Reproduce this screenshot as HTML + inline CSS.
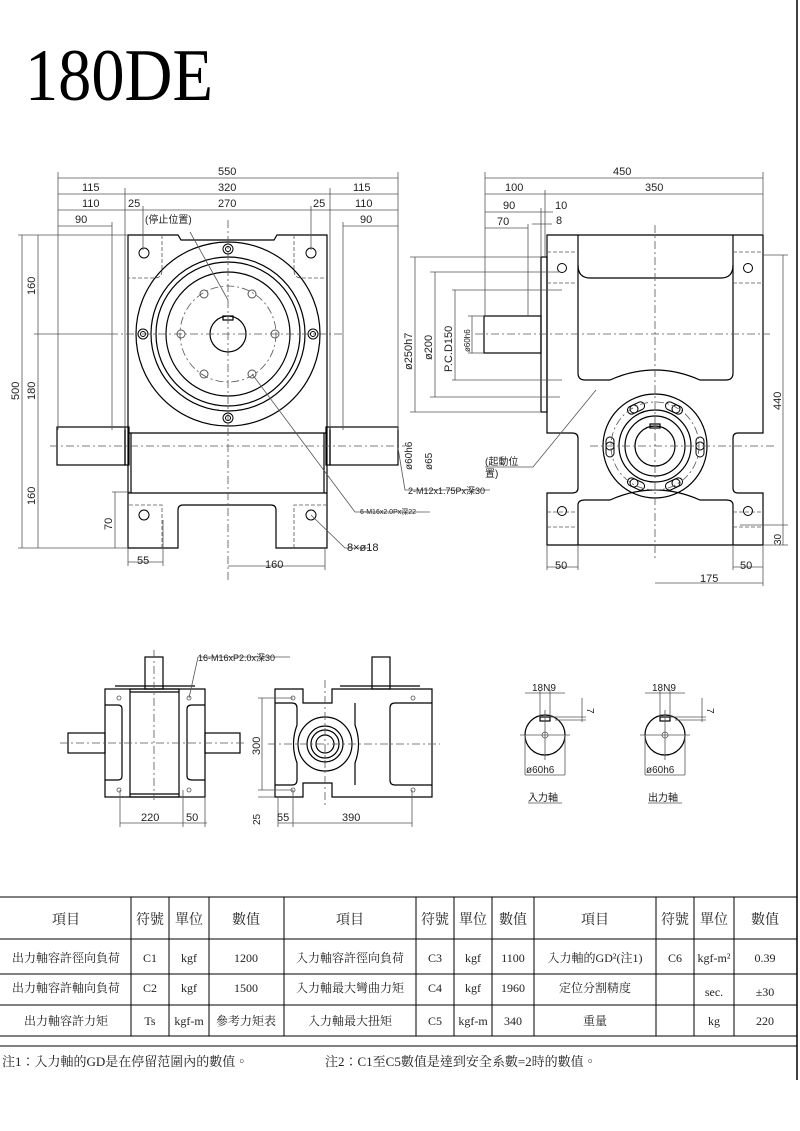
<!DOCTYPE html>
<html><head><meta charset="utf-8"><style>
html,body{margin:0;padding:0;background:#fff}
svg{display:block}
text{font-family:"Liberation Sans","Noto Sans CJK TC",sans-serif;fill:#222}
.s, .s text{font-family:"Liberation Serif","Noto Serif CJK TC",serif}
</style></head><body>
<svg width="800" height="1131" viewBox="0 0 800 1131" xmlns="http://www.w3.org/2000/svg">
<line x1="797" y1="0" x2="797" y2="1080" stroke="#000" stroke-width="1.5"/>
<text x="25" y="100" class="s" font-size="74" textLength="188" lengthAdjust="spacingAndGlyphs" style="fill:#000">180DE</text>

<!-- ===== FRONT VIEW ===== -->
<g fill="none" stroke="#000" stroke-width="1.2">
<path d="M128,235 H178 L181,240 H274 L277,235 H327 V548 H276 V510 Q276,505 271,505 H183 Q178,505 178,510 V548 H128 Z"/>
<line x1="128" y1="433" x2="327" y2="433"/><line x1="128" y1="493" x2="327" y2="493"/>
<rect x="57" y="427" width="68" height="38"/><rect x="330" y="427" width="68" height="38"/>
<rect x="125" y="427" width="4" height="38"/><rect x="326" y="427" width="4" height="38"/>
<line x1="131" y1="433" x2="131" y2="493"/><line x1="324" y1="433" x2="324" y2="493"/>
<circle cx="228" cy="334" r="92"/><circle cx="228" cy="334" r="77"/><circle cx="228" cy="334" r="72"/><circle cx="228" cy="334" r="62"/>
<circle cx="228" cy="334" r="18"/><rect x="223" y="316" width="10" height="4"/>
<g stroke-width="1"><circle cx="144" cy="253" r="5"/><circle cx="311" cy="253" r="5"/><circle cx="144" cy="515" r="5"/><circle cx="311" cy="515" r="5"/>
<circle cx="228" cy="249" r="5"/><circle cx="228" cy="418" r="5"/><circle cx="143" cy="334" r="5"/><circle cx="313" cy="334" r="5"/>
<circle cx="228" cy="249" r="2.5"/><circle cx="228" cy="418" r="2.5"/><circle cx="143" cy="334" r="2.5"/><circle cx="313" cy="334" r="2.5"/></g>
<g stroke="#555" stroke-width="1"><circle cx="204" cy="294" r="4"/><circle cx="252" cy="294" r="4"/><circle cx="181" cy="334" r="4"/><circle cx="275" cy="334" r="4"/><circle cx="204" cy="374" r="4"/><circle cx="252" cy="374" r="4"/></g>
</g>
<g fill="none" stroke="#555" stroke-width="0.8" stroke-dasharray="8,3,2,3">
<circle cx="228" cy="334" r="48"/>
<line x1="228" y1="220" x2="228" y2="580"/><line x1="110" y1="334" x2="345" y2="334"/><line x1="50" y1="446" x2="405" y2="446"/>
<path d="M162,235 V270 Q162,278 155,278 H128 M294,235 V270 Q294,278 301,278 H327 M162,548 V505 H128 M294,548 V505 H327" stroke-dasharray="4,2"/>
</g>
<g stroke="#555" stroke-width="0.8" fill="none">
<line x1="58" y1="178" x2="398" y2="178"/><line x1="58" y1="194" x2="398" y2="194"/><line x1="58" y1="210" x2="398" y2="210"/>
<line x1="58" y1="226" x2="112" y2="226"/><line x1="343" y1="226" x2="398" y2="226"/>
<line x1="58" y1="172" x2="58" y2="430"/><line x1="398" y1="172" x2="398" y2="430"/>
<line x1="125" y1="188" x2="125" y2="430"/><line x1="330" y1="188" x2="330" y2="430"/>
<line x1="112" y1="222" x2="112" y2="430"/><line x1="343" y1="222" x2="343" y2="430"/>
<line x1="143" y1="206" x2="143" y2="250"/><line x1="311" y1="206" x2="311" y2="250"/>
<line x1="22" y1="235" x2="22" y2="548"/><line x1="38" y1="235" x2="38" y2="548"/>
<line x1="18" y1="235" x2="128" y2="235"/><line x1="18" y1="548" x2="128" y2="548"/><line x1="34" y1="334" x2="110" y2="334"/>
<line x1="115" y1="492" x2="115" y2="548"/><line x1="112" y1="492" x2="130" y2="492"/>
<line x1="128" y1="562" x2="163" y2="562"/><line x1="128" y1="548" x2="128" y2="566"/><line x1="163" y1="520" x2="163" y2="566"/>
<line x1="228" y1="566" x2="325" y2="566"/><line x1="325" y1="548" x2="325" y2="570"/>
<path d="M190,232 L228,300"/><path d="M252,374 L355,512 H430"/><path d="M311,515 L345,548 H370"/>
<path d="M398,448 L405,490 H490"/>
</g>
<g font-size="11" fill="#333">
<text x="218" y="175">550</text><text x="82" y="191">115</text><text x="218" y="191">320</text><text x="353" y="191">115</text>
<text x="82" y="207">110</text><text x="128" y="207">25</text><text x="218" y="207">270</text><text x="313" y="207">25</text><text x="355" y="207">110</text>
<text x="75" y="223">90</text><text x="360" y="223">90</text>
<text x="145" y="223" font-size="10">(停止位置)</text>
<text transform="translate(19,400) rotate(-90)">500</text>
<text transform="translate(35,295) rotate(-90)">160</text><text transform="translate(35,400) rotate(-90)">180</text><text transform="translate(35,505) rotate(-90)">160</text>
<text transform="translate(112,530) rotate(-90)">70</text>
<text x="137" y="564">55</text><text x="265" y="568">160</text>
<text x="347" y="551">8×ø18</text>
<text x="360" y="514" font-size="7">6-M16x2.0Px深22</text>
<text x="408" y="494" font-size="9">2-M12x1.75Px深30</text>
<text transform="translate(412,470) rotate(-90)" font-size="10">ø60h6</text>
<text transform="translate(432,470) rotate(-90)" font-size="10">ø65</text>
</g>

<!-- ===== RIGHT VIEW ===== -->
<g fill="none" stroke="#000" stroke-width="1.2">
<path d="M547,235 H763 V433 H738 Q733,433 733,438 V488 Q733,493 738,493 H763 V545 H547 V493 H572 Q578,493 578,488 V438 Q578,433 572,433 H547 Z"/>
<path d="M578,235 V373 Q578,380 585,380 H610 Q655,360 700,380 H726 Q733,380 733,373 V235"/>
<path d="M578,265 Q578,278 590,278 H721 Q733,278 733,265"/>
<path d="M578,545 V505 Q578,500 585,500 H610 Q655,480 700,500 H726 Q733,500 733,505 V545"/>
<rect x="541" y="257" width="6" height="155"/><rect x="484" y="316" width="57" height="37"/>
<circle cx="655" cy="446" r="52"/><circle cx="655" cy="446" r="36"/><circle cx="655" cy="446" r="30"/><circle cx="655" cy="446" r="20"/>
<rect x="650" y="424" width="10" height="4"/>
<g stroke-width="1"><circle cx="562" cy="268" r="4.5"/><circle cx="748" cy="268" r="4.5"/><circle cx="562" cy="511" r="4.5"/><circle cx="748" cy="511" r="4.5"/>
<circle cx="634" cy="409" r="4"/><circle cx="676" cy="409" r="4"/><circle cx="610" cy="446" r="4"/><circle cx="700" cy="446" r="4"/><circle cx="634" cy="483" r="4"/><circle cx="676" cy="483" r="4"/>
<rect x="627" y="404" width="18" height="8" rx="4" transform="rotate(-25 636 408)"/><rect x="665" y="404" width="18" height="8" rx="4" transform="rotate(25 674 408)"/>
<rect x="606" y="437" width="8" height="20" rx="4"/><rect x="696" y="437" width="8" height="20" rx="4"/>
<rect x="627" y="480" width="18" height="8" rx="4" transform="rotate(25 636 484)"/><rect x="665" y="480" width="18" height="8" rx="4" transform="rotate(-25 674 484)"/></g>
</g>
<g fill="none" stroke="#555" stroke-width="0.8" stroke-dasharray="8,3,2,3">
<line x1="655" y1="225" x2="655" y2="560"/><line x1="475" y1="334" x2="770" y2="334"/><line x1="590" y1="446" x2="775" y2="446"/>
<circle cx="655" cy="446" r="44"/>
<path d="M547,252 H578 M547,283 H578 M733,252 H763 M733,283 H763 M547,527 H578 M547,512 H578 M733,527 H763 M733,512 H763" stroke-dasharray="4,2"/>
</g>
<g stroke="#555" stroke-width="0.8" fill="none">
<line x1="485" y1="178" x2="763" y2="178"/><line x1="485" y1="194" x2="763" y2="194"/><line x1="485" y1="212" x2="553" y2="212"/><line x1="485" y1="228" x2="528" y2="228"/><line x1="532" y1="224" x2="552" y2="224"/>
<line x1="485" y1="172" x2="485" y2="316"/><line x1="763" y1="172" x2="763" y2="235"/><line x1="545" y1="190" x2="545" y2="257"/><line x1="541" y1="208" x2="541" y2="257"/><line x1="528" y1="224" x2="528" y2="316"/>
<line x1="415" y1="257" x2="415" y2="412"/><line x1="410" y1="257" x2="541" y2="257"/><line x1="410" y1="412" x2="541" y2="412"/>
<line x1="435" y1="272" x2="435" y2="397"/><line x1="430" y1="272" x2="560" y2="272"/><line x1="430" y1="397" x2="560" y2="397"/>
<line x1="455" y1="290" x2="455" y2="380"/><line x1="452" y1="290" x2="562" y2="290"/><line x1="452" y1="380" x2="562" y2="380"/>
<line x1="472" y1="316" x2="472" y2="353"/><line x1="468" y1="316" x2="484" y2="316"/><line x1="468" y1="353" x2="484" y2="353"/>
<line x1="783" y1="255" x2="783" y2="545"/><line x1="763" y1="255" x2="788" y2="255"/><line x1="763" y1="545" x2="788" y2="545"/><line x1="740" y1="525" x2="788" y2="525"/>
<line x1="547" y1="567" x2="578" y2="567"/><line x1="547" y1="545" x2="547" y2="570"/><line x1="578" y1="545" x2="578" y2="570"/>
<line x1="733" y1="567" x2="763" y2="567"/><line x1="733" y1="545" x2="733" y2="570"/><line x1="763" y1="545" x2="763" y2="586"/>
<line x1="655" y1="583" x2="763" y2="583"/>
<path d="M596,390 L533,467 H485"/>
</g>
<g font-size="11" fill="#333">
<text x="613" y="175">450</text><text x="505" y="191">100</text><text x="645" y="191">350</text>
<text x="503" y="209">90</text><text x="555" y="209">10</text><text x="556" y="224">8</text><text x="497" y="225">70</text>
<text transform="translate(412,370) rotate(-90)">ø250h7</text>
<text transform="translate(432,360) rotate(-90)">ø200</text>
<text transform="translate(452,372) rotate(-90)">P.C.D150</text>
<text transform="translate(470,352) rotate(-90)" font-size="8">ø60h6</text>
<text transform="translate(781,410) rotate(-90)">440</text><text transform="translate(781,545) rotate(-90)" font-size="10">30</text>
<text x="555" y="569">50</text><text x="740" y="569">50</text><text x="700" y="582">175</text>
<text x="485" y="465" font-size="10">(起動位</text><text x="485" y="477" font-size="10">置)</text>
</g>

<!-- ===== BOTTOM LEFT VIEW ===== -->
<g fill="none" stroke="#000" stroke-width="1.2">
<rect x="105" y="689" width="100" height="108"/>
<rect x="130" y="689" width="49" height="108"/><line x1="130" y1="692" x2="179" y2="692"/><line x1="130" y1="794" x2="179" y2="794"/>
<rect x="145" y="657" width="18" height="32"/><line x1="115" y1="686" x2="195" y2="686"/>
<rect x="68" y="733" width="37" height="20"/><rect x="205" y="733" width="35" height="20"/>
<path d="M105,705 H118 Q122,705 122,709 V776 Q122,780 118,780 H105 M205,705 H192 Q187,705 187,709 V776 Q187,780 192,780 H205"/>
</g>
<g fill="none" stroke="#555" stroke-width="0.8">
<line x1="154" y1="650" x2="154" y2="800" stroke-dasharray="8,3,2,3"/><line x1="60" y1="743" x2="245" y2="743" stroke-dasharray="8,3,2,3"/>
<circle cx="119" cy="698" r="2"/><circle cx="189" cy="698" r="2"/><circle cx="119" cy="790" r="2"/><circle cx="189" cy="790" r="2"/>
<line x1="120" y1="790" x2="120" y2="827"/><line x1="183" y1="790" x2="183" y2="827"/><line x1="205" y1="797" x2="205" y2="827"/>
<line x1="120" y1="823" x2="207" y2="823"/><path d="M189,698 L198,657 H290"/>
</g>
<g font-size="11" fill="#333"><text x="141" y="821">220</text><text x="186" y="821">50</text>
<text x="198" y="661" font-size="9">16-M16xP2.0x深30</text></g>

<!-- ===== BOTTOM RIGHT VIEW ===== -->
<g fill="none" stroke="#000" stroke-width="1.2">
<path d="M275,689 H303 V703 H332 V689 H432 V797 H332 V783 H303 V797 H275 Z"/>
<rect x="372" y="657" width="18" height="32"/><line x1="340" y1="686" x2="420" y2="686"/>
<path d="M432,703 H395 Q390,703 390,708 V780 Q390,785 395,785 H432"/>
<path d="M275,703 H292 Q297,703 297,708 V725 Q290,744 297,763 V780 Q297,785 292,785 H275"/>
<path d="M355,703 V725 Q362,744 355,763 V785"/>
<circle cx="325" cy="744" r="27"/><circle cx="325" cy="744" r="18"/><circle cx="325" cy="744" r="14"/><circle cx="325" cy="744" r="9"/>
</g>
<g fill="none" stroke="#555" stroke-width="0.8">
<line x1="325" y1="680" x2="325" y2="805" stroke-dasharray="8,3,2,3"/><line x1="268" y1="744" x2="440" y2="744" stroke-dasharray="8,3,2,3"/>
<circle cx="293" cy="698" r="2"/><circle cx="413" cy="698" r="2"/><circle cx="293" cy="790" r="2"/><circle cx="413" cy="790" r="2"/>
<line x1="262" y1="698" x2="262" y2="790"/><line x1="258" y1="698" x2="293" y2="698"/><line x1="258" y1="790" x2="293" y2="790"/><line x1="258" y1="797" x2="275" y2="797"/>
<line x1="278" y1="797" x2="278" y2="827"/><line x1="293" y1="790" x2="293" y2="827"/><line x1="412" y1="790" x2="412" y2="827"/>
<line x1="278" y1="823" x2="412" y2="823"/>
</g>
<g font-size="11" fill="#333"><text transform="translate(260,755) rotate(-90)">300</text><text transform="translate(260,825) rotate(-90)" font-size="10">25</text>
<text x="277" y="821">55</text><text x="342" y="821">390</text></g>

<!-- ===== KEY SECTIONS ===== -->
<g fill="none" stroke="#000" stroke-width="1.2">
<circle cx="545" cy="735" r="20"/><rect x="540" y="717" width="10" height="4"/>
<circle cx="665" cy="735" r="20"/><rect x="660" y="717" width="10" height="4"/>
</g>
<g fill="none" stroke="#555" stroke-width="0.8">
<circle cx="545" cy="735" r="3"/><circle cx="665" cy="735" r="3"/>
<line x1="520" y1="735" x2="570" y2="735"/><line x1="545" y1="710" x2="545" y2="760"/>
<line x1="640" y1="735" x2="690" y2="735"/><line x1="665" y1="710" x2="665" y2="760"/>
<line x1="525" y1="693" x2="565" y2="693"/><line x1="540" y1="690" x2="540" y2="717"/><line x1="550" y1="690" x2="550" y2="717"/>
<line x1="645" y1="693" x2="685" y2="693"/><line x1="660" y1="690" x2="660" y2="717"/><line x1="670" y1="690" x2="670" y2="717"/>
<line x1="582" y1="698" x2="582" y2="722"/><line x1="550" y1="717" x2="586" y2="717"/><line x1="555" y1="720" x2="586" y2="720"/>
<line x1="702" y1="698" x2="702" y2="722"/><line x1="670" y1="717" x2="706" y2="717"/><line x1="675" y1="720" x2="706" y2="720"/>
<line x1="525" y1="735" x2="525" y2="775"/><line x1="565" y1="735" x2="565" y2="775"/><line x1="525" y1="775" x2="565" y2="775"/>
<line x1="645" y1="735" x2="645" y2="775"/><line x1="685" y1="735" x2="685" y2="775"/><line x1="645" y1="775" x2="685" y2="775"/>
<line x1="528" y1="803" x2="562" y2="803"/><line x1="648" y1="803" x2="682" y2="803"/>
</g>
<g font-size="10" fill="#333">
<text x="532" y="691">18N9</text><text x="652" y="691">18N9</text>
<text transform="translate(587,708) rotate(90)">7</text><text transform="translate(707,708) rotate(90)">7</text>
<text x="526" y="773">ø60h6</text><text x="646" y="773">ø60h6</text>
<text x="528" y="801">入力軸</text><text x="648" y="801">出力軸</text>
</g>

<!-- ===== TABLE ===== -->
<g stroke="#000" stroke-width="1" fill="none">
<line x1="0" y1="897" x2="797" y2="897"/><line x1="0" y1="939" x2="797" y2="939"/><line x1="0" y1="974" x2="797" y2="974"/><line x1="0" y1="1005" x2="797" y2="1005"/><line x1="0" y1="1036" x2="797" y2="1036"/><line x1="0" y1="1046" x2="797" y2="1046"/>
<line x1="131" y1="897" x2="131" y2="1036"/><line x1="169" y1="897" x2="169" y2="1036"/><line x1="209" y1="897" x2="209" y2="1036"/><line x1="284" y1="897" x2="284" y2="1036"/><line x1="416" y1="897" x2="416" y2="1036"/><line x1="454" y1="897" x2="454" y2="1036"/><line x1="492" y1="897" x2="492" y2="1036"/><line x1="534" y1="897" x2="534" y2="1036"/><line x1="656" y1="897" x2="656" y2="1036"/><line x1="694" y1="897" x2="694" y2="1036"/><line x1="734" y1="897" x2="734" y2="1036"/>
</g>
<g font-size="14" text-anchor="middle" class="s">
<text x="66" y="924">項目</text><text x="150" y="924">符號</text><text x="189" y="924">單位</text><text x="246" y="924">數值</text><text x="350" y="924">項目</text><text x="435" y="924">符號</text><text x="473" y="924">單位</text><text x="513" y="924">數值</text><text x="595" y="924">項目</text><text x="675" y="924">符號</text><text x="714" y="924">單位</text><text x="765" y="924">數值</text>
</g>
<g font-size="12" text-anchor="middle" class="s">
<text x="66" y="962">出力軸容許徑向負荷</text><text x="150" y="962">C1</text><text x="189" y="962">kgf</text><text x="246" y="962">1200</text><text x="350" y="962">入力軸容許徑向負荷</text><text x="435" y="962">C3</text><text x="473" y="962">kgf</text><text x="513" y="962">1100</text><text x="595" y="962">入力軸的GD²(注1)</text><text x="675" y="962">C6</text><text x="714" y="962">kgf-m²</text><text x="765" y="962">0.39</text>
<text x="66" y="992">出力軸容許軸向負荷</text><text x="150" y="992">C2</text><text x="189" y="992">kgf</text><text x="246" y="992">1500</text><text x="350" y="992">入力軸最大彎曲力矩</text><text x="435" y="992">C4</text><text x="473" y="992">kgf</text><text x="513" y="992">1960</text><text x="595" y="992">定位分割精度</text><text x="714" y="996">sec.</text><text x="765" y="996">±30</text>
<text x="66" y="1025">出力軸容許力矩</text><text x="150" y="1025">Ts</text><text x="189" y="1025">kgf-m</text><text x="246" y="1025">參考力矩表</text><text x="350" y="1025">入力軸最大扭矩</text><text x="435" y="1025">C5</text><text x="473" y="1025">kgf-m</text><text x="513" y="1025">340</text><text x="595" y="1025">重量</text><text x="714" y="1025">kg</text><text x="765" y="1025">220</text>
</g>
<g font-size="13" class="s">
<text x="2" y="1066">注1：入力軸的GD是在停留范圍內的數值。</text>
<text x="325" y="1066">注2：C1至C5數值是達到安全系數=2時的數值。</text>
</g>
</svg>
</body></html>
